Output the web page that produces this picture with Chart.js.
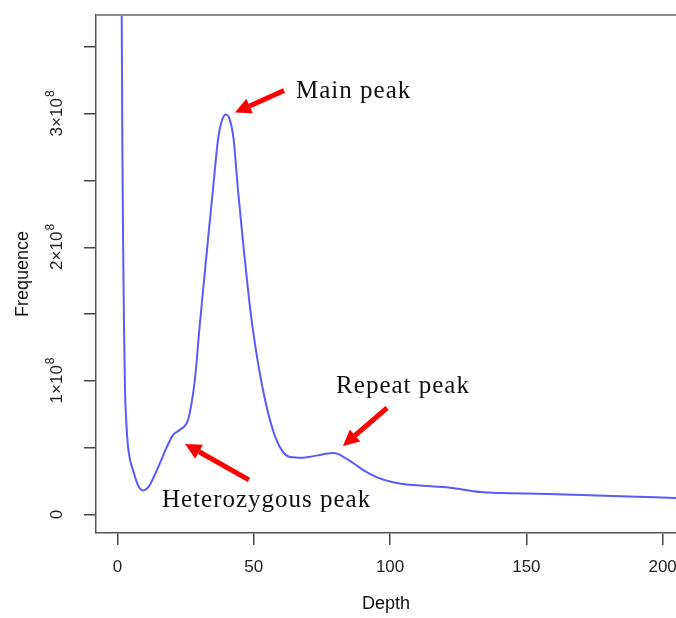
<!DOCTYPE html>
<html>
<head>
<meta charset="utf-8">
<script src="https://cdn.jsdelivr.net/npm/chart.js@4"></script>
<style>
body{margin:0;background:#fff}
</style>
</head>
<body>
<canvas id="kmer" width="676" height="618"></canvas>
<script>
// k-mer depth distribution
const depth = [1.2, 1.5, 1.8, 2.1, 2.4, 2.75, 3.2, 3.85, 4.7, 5.7, 7.5, 9.35, 11.5, 13.5, 15.6, 18.0, 20.4, 22.9, 25.9, 27.3, 28.4, 30.0, 31.4, 33.2, 35.0, 36.9, 38.3, 39.8, 41.3, 42.6, 44.2, 46.0, 47.9, 49.7, 53.0, 57.0, 60.3, 63.3, 68.0, 71.0, 74.3, 76.5, 79.0, 81.0, 83.0, 85.0, 87.5, 90.0, 95.0, 100, 104, 110, 122, 133, 157.5, 181.8, 205];
const frequence = [6.0e8, 3.9e8, 2.7e8, 1.95e8, 1.38e8, 9.3e7, 7.0e7, 5.1e7, 4.0e7, 3.3e7, 2.2e7, 1.8e7, 2.1e7, 2.9e7, 3.86e7, 5.0e7, 5.96e7, 6.34e7, 7.09e7, 8.5e7, 1.01e8, 1.38e8, 1.68e8, 2.06e8, 2.43e8, 2.81e8, 2.95e8, 2.995e8, 2.95e8, 2.81e8, 2.43e8, 2.05e8, 1.68e8, 1.38e8, 9.7e7, 6.33e7, 4.8e7, 4.3e7, 4.24e7, 4.33e7, 4.46e7, 4.55e7, 4.6e7, 4.52e7, 4.3e7, 4.05e7, 3.7e7, 3.34e7, 2.8e7, 2.47e7, 2.3e7, 2.18e7, 2.0e7, 1.69e7, 1.54e7, 1.39e7, 1.24e7];

const xTicks = [0, 50, 100, 150, 200];
const yTicks = [0, 0.5e8, 1e8, 1.5e8, 2e8, 2.5e8, 3e8, 3.5e8];
const yLabelValues = [0, 1e8, 2e8, 3e8];
const yLabelText = ['0', '1×10^8', '2×10^8', '3×10^8'];

const noteText = ['Main peak', 'Repeat peak', 'Heterozygous peak'];
const noteAt = [[65.5, 3.12e8], [80.2, 0.911e8], [16.3, 0.056e8]];
const arrowFrom = [[61.1, 3.175e8], [98.9, 0.798e8], [48.2, 0.259e8]];
const arrowTo = [[43.1, 3.01e8], [82.7, 0.513e8], [24.8, 0.528e8]];

const sans = '"Liberation Sans", Arial, Helvetica, sans-serif';

function drawArrow(ctx, x0, y0, x1, y1) {
  const ang = Math.atan2(y1 - y0, x1 - x0), head = 16, hw = 8;
  const bx = x1 - head * Math.cos(ang), by = y1 - head * Math.sin(ang);
  ctx.beginPath();
  ctx.moveTo(x0, y0);
  ctx.lineTo(bx, by);
  ctx.stroke();
  ctx.beginPath();
  ctx.moveTo(x1, y1);
  ctx.lineTo(bx + hw * Math.sin(ang), by - hw * Math.cos(ang));
  ctx.lineTo(bx - hw * Math.sin(ang), by + hw * Math.cos(ang));
  ctx.closePath();
  ctx.fill();
}

const peakNotes = {
  id: 'peakNotes',
  afterDraw(chart) {
    const {ctx, chartArea: a, scales: {x, y}} = chart;
    ctx.save();
    // top of the frame
    ctx.strokeStyle = '#8c8c8c';
    ctx.lineWidth = 2;
    ctx.beginPath();
    ctx.moveTo(a.left, a.top);
    ctx.lineTo(a.right, a.top);
    ctx.stroke();

    // rotated y labels with superscript
    ctx.fillStyle = '#222';
    ctx.textBaseline = 'middle';
    ctx.textAlign = 'left';
    yLabelValues.forEach((v, i) => {
      const parts = yLabelText[i].split('^');
      ctx.font = '17px ' + sans;
      const w0 = ctx.measureText(parts[0]).width;
      let w1 = 0;
      if (parts[1]) { ctx.font = '12px ' + sans; w1 = ctx.measureText(parts[1]).width; }
      ctx.save();
      ctx.translate(57, y.getPixelForValue(v));
      ctx.rotate(-Math.PI / 2);
      ctx.font = '17px ' + sans;
      ctx.fillText(parts[0], -(w0 + w1) / 2, 0);
      if (parts[1]) {
        ctx.font = '12px ' + sans;
        ctx.fillText(parts[1], -(w0 + w1) / 2 + w0 + 1, -6);
      }
      ctx.restore();
    });

    // arrows and notes
    ctx.strokeStyle = '#ff0000';
    ctx.fillStyle = '#ff0000';
    ctx.lineWidth = 5;
    arrowFrom.forEach((p, i) => {
      drawArrow(ctx, x.getPixelForValue(p[0]), y.getPixelForValue(p[1]),
        x.getPixelForValue(arrowTo[i][0]), y.getPixelForValue(arrowTo[i][1]));
    });
    ctx.fillStyle = '#111';
    ctx.font = '25px "Liberation Serif", "Times New Roman", serif';
    ctx.letterSpacing = '1px';
    ctx.textBaseline = 'alphabetic';
    noteText.forEach((t, i) => {
      ctx.fillText(t, x.getPixelForValue(noteAt[i][0]), y.getPixelForValue(noteAt[i][1]));
    });
    ctx.restore();
  }
};

new Chart(document.getElementById('kmer'), {
  type: 'line',
  data: {
    datasets: [{
      data: depth.map((d, i) => ({x: d, y: frequence[i]})),
      borderColor: '#5a5aff',
      borderWidth: 2,
      pointRadius: 0,
      fill: false,
      cubicInterpolationMode: 'monotone'
    }]
  },
  options: {
    responsive: false,
    animation: false,
    layout: {padding: {top: 15, right: 0, left: 0, bottom: 0}},
    plugins: {legend: {display: false}, tooltip: {enabled: false}},
    scales: {
      x: {
        type: 'linear',
        min: -7.89,
        max: 204.9,
        border: {display: true, color: '#555', width: 1.5},
        grid: {drawOnChartArea: false, drawTicks: true, tickLength: 12, color: '#444', lineWidth: 1.5},
        ticks: {padding: 12, color: '#222', font: {size: 17, family: sans}},
        afterBuildTicks(s) { s.ticks = xTicks.map(v => ({value: v})); },
        title: {display: true, text: 'Depth', color: '#111', font: {size: 18, family: sans}, padding: {top: 0, bottom: 3}},
        afterFit(s) { s.height = 85; s.paddingLeft = 0; s.paddingRight = 0; }
      },
      y: {
        type: 'linear',
        min: -0.139e8,
        max: 3.741e8,
        border: {display: true, color: '#555', width: 1.5},
        grid: {drawOnChartArea: false, drawTicks: true, tickLength: 12, color: '#444', lineWidth: 1.5},
        ticks: {display: false},
        afterBuildTicks(s) { s.ticks = yTicks.map(v => ({value: v})); },
        title: {display: true, text: 'Frequence', color: '#111', font: {size: 18, family: sans}, padding: {top: 12, bottom: 0}},
        afterFit(s) { s.width = 96; s.paddingTop = 0; s.paddingBottom = 0; }
      }
    }
  },
  plugins: [peakNotes]
});
</script>
</body>
</html>
